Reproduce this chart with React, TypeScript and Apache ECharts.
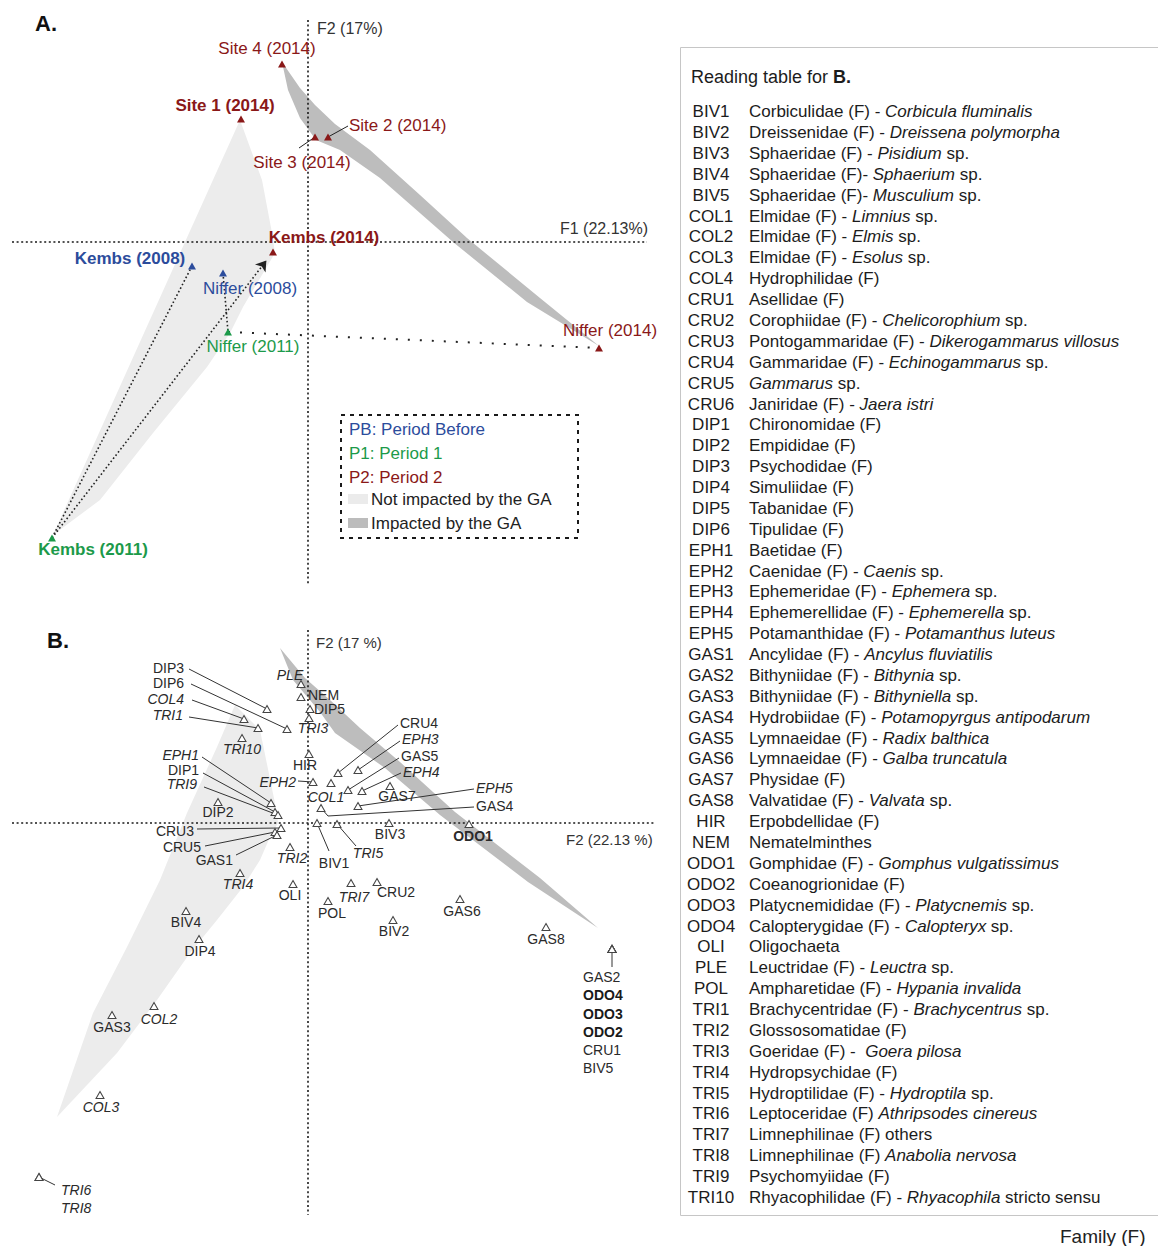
import React, { useEffect, useRef } from "react";
import * as echarts from "echarts";

const FONT = "'Liberation Sans', Arial, Helvetica, sans-serif";

// ---------------- Panel A : sampling sites (F1 / F2 scores) ----------------
const siteNames = [
  "Site 4 (2014)", "Site 1 (2014)", "Site 3 (2014)", "Site 2 (2014)", "Kembs (2014)",
  "Kembs (2008)", "Niffer (2008)", "Niffer (2011)", "Kembs (2011)", "Niffer (2014)",
];
const siteF1 = [-0.26, -0.67, 0.07, 0.2, -0.35, -1.16, -0.85, -0.8, -2.56, 2.91];
const siteF2 = [1.78, 1.23, 1.05, 1.05, -0.1, -0.24, -0.31, -0.9, -2.96, -1.06];
const sitePeriods = ["P2", "P2", "P2", "P2", "P2", "PB", "PB", "P1", "P1", "P2"];

const periodKeys = ["PB", "P1", "P2"];
const periodLabels = ["PB: Period Before", "P1: Period 1", "P2: Period 2"];
const periodColors = ["#2c4c9c", "#1c9a4a", "#8a1818"];

const trajectoryFrom = ["Kembs (2008)", "Kembs (2011)", "Niffer (2008)", "Niffer (2011)"];
const trajectoryTo = ["Kembs (2011)", "Kembs (2014)", "Niffer (2011)", "Niffer (2014)"];
const trajectoryKind = ["dense", "arrow", "dense", "sparse"];

// hull outlines (F1, F2)
const hullANotImpacted: number[][] = [
  [-0.68, 1.22], [-0.46, 0.62], [-0.36, 0.09], [-0.33, -0.11], [-0.65, -0.65],
  [-0.78, -0.91], [-1.01, -1.25], [-1.55, -1.91], [-2.08, -2.58], [-2.55, -2.93],
];
const hullAImpacted: number[][] = [
  [-0.26, 1.8], [-0.08, 1.54], [0.07, 1.37], [0.27, 1.18], [0.62, 0.92], [1.12, 0.47],
  [1.59, 0.04], [2.32, -0.56], [2.91, -1.04], [2.19, -0.6], [1.45, 0.0], [0.72, 0.64],
  [0.32, 0.92], [0.08, 1.02], [-0.08, 1.24], [-0.2, 1.52],
];
const hullBNotImpacted: number[][] = [
  [-0.73, 1.18], [-0.48, 0.93], [-0.31, 0.1], [-0.3, 0.0], [-0.38, -0.14],
  [-0.48, -0.37], [-0.65, -0.64], [-0.91, -0.97], [-1.18, -1.3], [-1.51, -1.77],
  [-1.91, -2.3], [-2.51, -2.94], [-2.15, -1.9], [-1.81, -1.24], [-1.48, -0.57],
  [-1.21, 0.1], [-0.91, 0.76],
];
const hullBImpacted: number[][] = [
  [-0.28, 1.75], [-0.03, 1.45], [0.22, 1.23], [0.52, 0.95], [0.92, 0.61], [1.47, 0.11],
  [2.32, -0.55], [2.9, -1.05], [2.2, -0.59], [1.32, 0.08], [0.77, 0.55], [0.27, 0.9],
  [0.12, 1.11], [-0.15, 1.43],
];

// ---------------- Panel B : taxa (F1 / F2 scores) ----------------
const taxaCodes = [
  "PLE", "NEM", "DIP5", "TRI3", "DIP3", "DIP6", "COL4", "TRI1", "TRI10", "HIR",
  "EPH2", "CRU4", "EPH3", "GAS5", "EPH4", "GAS7", "COL1", "GAS4", "EPH5", "BIV3",
  "ODO1", "BIV1", "TRI5", "TRI2", "EPH1", "DIP1", "TRI9", "DIP2", "CRU3", "CRU5",
  "GAS1", "TRI4", "OLI", "POL", "TRI7", "CRU2", "GAS6", "BIV2", "GAS8", "GAS2",
  "ODO4", "ODO3", "ODO2", "CRU1", "BIV5", "BIV4", "DIP4", "GAS3", "COL2", "COL3",
  "TRI6", "TRI8",
];
const taxaF1 = [
  -0.07, -0.07, 0.02, 0.01, -0.41, -0.21, -0.64, -0.5, -0.66, 0.01,
  0.05, 0.3, 0.5, 0.4, 0.54, 0.82, 0.23, 0.13, 0.5, 0.81,
  1.61, 0.09, 0.29, -0.18, -0.37, -0.33, -0.3, -0.9, -0.27, -0.33,
  -0.31, -0.68, -0.15, 0.2, 0.43, 0.69, 1.52, 0.85, 2.38, 3.04,
  3.04, 3.04, 3.04, 3.04, 3.04, -1.22, -1.09, -1.96, -1.54, -2.08,
  -2.69, -2.69,
];
const taxaF2 = [
  1.39, 1.26, 1.14, 1.05, 1.14, 0.94, 1.04, 0.95, 0.85, 0.69,
  0.41, 0.5, 0.53, 0.33, 0.32, 0.37, 0.4, 0.15, 0.17, 0.0,
  -0.01, 0.0, -0.01, -0.24, 0.2, 0.11, 0.08, 0.21, -0.05, -0.09,
  -0.12, -0.5, -0.61, -0.78, -0.6, -0.59, -0.76, -0.97, -1.04, -1.26,
  -1.26, -1.26, -1.26, -1.26, -1.26, -0.88, -1.16, -1.92, -1.83, -2.72,
  -3.54, -3.54,
];
const italicCodes = [
  "PLE", "COL4", "TRI1", "TRI10", "TRI3", "EPH1", "TRI9", "EPH2", "COL1", "EPH3",
  "EPH4", "EPH5", "TRI2", "TRI5", "TRI4", "TRI7", "COL2", "COL3", "TRI6", "TRI8",
];
const boldCodes = ["ODO1", "ODO2", "ODO3", "ODO4"];
const stackedGroups = [
  ["GAS2", "ODO4", "ODO3", "ODO2", "CRU1", "BIV5"],
  ["TRI6", "TRI8"],
];

// ---------------- Reading table ----------------
const tableCodes = [
  "BIV1", "BIV2", "BIV3", "BIV4", "BIV5", "COL1", "COL2", "COL3", "COL4", "CRU1",
  "CRU2", "CRU3", "CRU4", "CRU5", "CRU6", "DIP1", "DIP2", "DIP3", "DIP4", "DIP5",
  "DIP6", "EPH1", "EPH2", "EPH3", "EPH4", "EPH5", "GAS1", "GAS2", "GAS3", "GAS4",
  "GAS5", "GAS6", "GAS7", "GAS8", "HIR", "NEM", "ODO1", "ODO2", "ODO3", "ODO4",
  "OLI", "PLE", "POL", "TRI1", "TRI2", "TRI3", "TRI4", "TRI5", "TRI6", "TRI7",
  "TRI8", "TRI9", "TRI10",
];
const tableDescriptions = [
  "Corbiculidae (F) - _Corbicula fluminalis_",
  "Dreissenidae (F) - _Dreissena polymorpha_",
  "Sphaeridae (F) - _Pisidium_ sp.",
  "Sphaeridae (F)- _Sphaerium_ sp.",
  "Sphaeridae (F)- _Musculium_ sp.",
  "Elmidae (F) - _Limnius_ sp.",
  "Elmidae (F) - _Elmis_ sp.",
  "Elmidae (F) - _Esolus_ sp.",
  "Hydrophilidae (F)",
  "Asellidae (F)",
  "Corophiidae (F) - _Chelicorophium_ sp.",
  "Pontogammaridae (F) - _Dikerogammarus villosus_",
  "Gammaridae (F) - _Echinogammarus_ sp.",
  "_Gammarus_ sp.",
  "Janiridae (F) - _Jaera istri_",
  "Chironomidae (F)",
  "Empididae (F)",
  "Psychodidae (F)",
  "Simuliidae (F)",
  "Tabanidae (F)",
  "Tipulidae (F)",
  "Baetidae (F)",
  "Caenidae (F) - _Caenis_ sp.",
  "Ephemeridae (F) - _Ephemera_ sp.",
  "Ephemerellidae (F) - _Ephemerella_ sp.",
  "Potamanthidae (F) - _Potamanthus luteus_",
  "Ancylidae (F) - _Ancylus fluviatilis_",
  "Bithyniidae (F) - _Bithynia_ sp.",
  "Bithyniidae (F) - _Bithyniella_ sp.",
  "Hydrobiidae (F) - _Potamopyrgus antipodarum_",
  "Lymnaeidae (F) - _Radix balthica_",
  "Lymnaeidae (F) - _Galba truncatula_",
  "Physidae (F)",
  "Valvatidae (F) - _Valvata_ sp.",
  "Erpobdellidae (F)",
  "Nematelminthes",
  "Gomphidae (F) - _Gomphus vulgatissimus_",
  "Coeanogrionidae (F)",
  "Platycnemididae (F) - _Platycnemis_ sp.",
  "Calopterygidae (F) - _Calopteryx_ sp.",
  "Oligochaeta",
  "Leuctridae (F) - _Leuctra_ sp.",
  "Ampharetidae (F) - _Hypania invalida_",
  "Brachycentridae (F) - _Brachycentrus_ sp.",
  "Glossosomatidae (F)",
  "Goeridae (F) -  _Goera pilosa_",
  "Hydropsychidae (F)",
  "Hydroptilidae (F) - _Hydroptila_ sp.",
  "Leptoceridae (F) _Athripsodes cinereus_",
  "Limnephilinae (F) others",
  "Limnephilinae (F) _Anabolia nervosa_",
  "Psychomyiidae (F)",
  "Rhyacophilidae (F) - _Rhyacophila_ stricto sensu",
];

// ---------------- layout (pixels) ----------------
type LabelLayout = {
  dx: number; dy: number; align: string; bold?: boolean; vAlign?: string;
  leader?: number[]; bend?: number[];
};
const siteLabelLayout: Record<string, LabelLayout> = {
  "Site 4 (2014)": { dx: -15, dy: -16, align: "center" },
  "Site 1 (2014)": { dx: -16, dy: -14, align: "center", bold: true },
  "Site 3 (2014)": { dx: -13, dy: 25, align: "center", leader: [-16, 11] },
  "Site 2 (2014)": { dx: 21, dy: -12, align: "left", leader: [20, -11] },
  "Kembs (2014)": { dx: 51, dy: -15, align: "center", bold: true },
  "Kembs (2008)": { dx: -62, dy: -8, align: "center", bold: true },
  "Niffer (2008)": { dx: 27, dy: 15, align: "center" },
  "Niffer (2011)": { dx: 25, dy: 14, align: "center" },
  "Kembs (2011)": { dx: 41, dy: 11, align: "center", bold: true },
  "Niffer (2014)": { dx: 11, dy: -18, align: "center" },
};
const taxaLabelLayout: Record<string, LabelLayout> = {
  PLE: { dx: -11, dy: -9, align: "center" },
  NEM: { dx: 7, dy: -2, align: "left" },
  DIP5: { dx: 4, dy: 0, align: "left" },
  TRI3: { dx: 4, dy: 10, align: "center" },
  DIP3: { dx: -83, dy: -41, align: "right", leader: [-78, -40] },
  DIP6: { dx: -103, dy: -46, align: "right", leader: [-96, -45] },
  COL4: { dx: -60, dy: -20, align: "right", leader: [-52, -19] },
  TRI1: { dx: -75, dy: -13, align: "right", leader: [-69, -11] },
  TRI10: { dx: 0, dy: 11, align: "center" },
  HIR: { dx: -4, dy: 11, align: "center" },
  EPH2: { dx: -17, dy: 0, align: "right", leader: [-15, -1] },
  CRU4: { dx: 62, dy: -50, align: "left", leader: [60, -48] },
  EPH3: { dx: 44, dy: -31, align: "left", leader: [42, -29] },
  GAS5: { dx: 53, dy: -34, align: "left", leader: [51, -32] },
  EPH4: { dx: 41, dy: -19, align: "left", leader: [39, -18] },
  GAS7: { dx: 7, dy: 10, align: "center" },
  COL1: { dx: -5, dy: 14, align: "center" },
  GAS4: { dx: 155, dy: -2, align: "left", leader: [153, -1], bend: [7, 8] },
  EPH5: { dx: 118, dy: -18, align: "left", leader: [116, -17] },
  BIV3: { dx: 1, dy: 11, align: "center" },
  ODO1: { dx: 4, dy: 12, align: "center" },
  BIV1: { dx: 17, dy: 40, align: "center", leader: [12, 28] },
  TRI5: { dx: 31, dy: 29, align: "center", leader: [19, 22] },
  TRI2: { dx: 2, dy: 11, align: "center" },
  EPH1: { dx: -72, dy: -48, align: "right", leader: [-69, -46] },
  DIP1: { dx: -76, dy: -42, align: "right", leader: [-72, -39] },
  TRI9: { dx: -81, dy: -31, align: "right", leader: [-74, -28] },
  DIP2: { dx: 0, dy: 10, align: "center" },
  CRU3: { dx: -87, dy: 3, align: "right", leader: [-84, 1] },
  CRU5: { dx: -74, dy: 15, align: "right", leader: [-70, 14] },
  GAS1: { dx: -44, dy: 25, align: "right", leader: [-41, 20] },
  TRI4: { dx: -2, dy: 11, align: "center" },
  OLI: { dx: -3, dy: 11, align: "center" },
  POL: { dx: 4, dy: 12, align: "center" },
  TRI7: { dx: 3, dy: 14, align: "center" },
  CRU2: { dx: 19, dy: 10, align: "center" },
  GAS6: { dx: 2, dy: 12, align: "center" },
  BIV2: { dx: 1, dy: 11, align: "center" },
  GAS8: { dx: 0, dy: 12, align: "center" },
  GAS2: { dx: -29, dy: 19, align: "left", vAlign: "top", leader: [0, 18] },
  BIV4: { dx: 0, dy: 11, align: "center" },
  DIP4: { dx: 1, dy: 12, align: "center" },
  GAS3: { dx: 0, dy: 12, align: "center" },
  COL2: { dx: 5, dy: 13, align: "center" },
  COL3: { dx: 1, dy: 12, align: "center" },
  TRI6: { dx: 22, dy: 4, align: "left", vAlign: "top", leader: [16, 8] },
};

const GRID_W = 660;
const A_X = [-3.08, 3.52];
const A_Y = [-3.48, 2.42];
const B_X = [-3.08, 3.52];
const B_Y = [-4.23, 2.23];
const A_AXIS_EXTENT = { v: [2.22, -3.43], h: [-2.96, 3.39] };
const B_AXIS_EXTENT = { v: [1.93, -3.92], h: [-2.96, 3.47] };

function toRich(desc: string) {
  return desc
    .split("_")
    .map((seg, k) => (seg ? `{${k % 2 ? "it" : "rg"}|${seg}}` : ""))
    .join("");
}

function hullSeries(points: number[][], color: string, idx: number) {
  return {
    type: "custom",
    coordinateSystem: "cartesian2d",
    xAxisIndex: idx,
    yAxisIndex: idx,
    silent: true,
    z: 1,
    clip: false,
    data: [[0, 0]],
    renderItem: (_p: any, api: any) => ({
      type: "polygon",
      shape: { points: points.map((p) => api.coord(p)) },
      style: { fill: color, stroke: null },
    }),
  };
}

function buildOption() {
  const u = (A_X[1] - A_X[0]) / GRID_W; // data units per pixel
  const off = (p: number[], d: number[]) => [p[0] + d[0] * u, p[1] - d[1] * u];
  const pColor = (key: string) => periodColors[periodKeys.indexOf(key)];
  const sitePoint = (name: string) => {
    const i = siteNames.indexOf(name);
    return [siteF1[i], siteF2[i]];
  };

  // ---- A scatter ----
  const siteData = siteNames.map((name, i) => {
    const L = siteLabelLayout[name];
    const col = pColor(sitePeriods[i]);
    return {
      name,
      value: [siteF1[i], siteF2[i]],
      itemStyle: { color: col, opacity: 1 },
      label: {
        show: true,
        formatter: () => name,
        position: "inside",
        offset: [L.dx, L.dy],
        align: L.align,
        verticalAlign: "middle",
        color: col,
        opacity: 1,
        fontSize: 17,
        fontFamily: FONT,
        fontWeight: L.bold ? "bold" : "normal",
        textBorderWidth: 0,
      },
    };
  });

  // ---- A leaders ----
  const siteLeaders: any[] = [];
  siteNames.forEach((name, i) => {
    const L = siteLabelLayout[name];
    if (L.leader) {
      const p = [siteF1[i], siteF2[i]];
      siteLeaders.push({ coords: [off(p, L.leader), p] });
    }
  });

  // ---- trajectories ----
  const dense: any[] = [];
  const sparse: any[] = [];
  const arrow: any[] = [];
  trajectoryFrom.forEach((f, k) => {
    const a = sitePoint(f);
    const b = sitePoint(trajectoryTo[k]);
    if (trajectoryKind[k] === "dense") dense.push({ coords: [a, b] });
    else if (trajectoryKind[k] === "sparse") sparse.push({ coords: [a, b] });
    else {
      const t = 0.97;
      arrow.push({ coords: [a, [a[0] + (b[0] - a[0]) * t, a[1] + (b[1] - a[1]) * t]] });
    }
  });

  // ---- B scatter ----
  const hidden = new Set<string>();
  stackedGroups.forEach((g) => g.slice(1).forEach((c) => hidden.add(c)));
  const taxaData = taxaCodes.map((code, i) => {
    const L = taxaLabelLayout[code];
    const group = stackedGroups.find((g) => g[0] === code);
    let text = code;
    if (group) {
      text = group
        .map((c) => `{${boldCodes.includes(c) ? "bd" : italicCodes.includes(c) ? "it" : "rg"}|${c}}`)
        .join("\n");
    }
    const label: any = hidden.has(code) || !L
      ? { show: false }
      : {
          show: true,
          formatter: () => text,
          position: "inside",
          offset: [L.dx, L.dy],
          align: L.align,
          verticalAlign: L.vAlign || "middle",
          color: "#2a2a2a",
          opacity: 1,
          fontSize: 14,
          fontFamily: FONT,
          fontStyle: italicCodes.includes(code) ? "italic" : "normal",
          fontWeight: boldCodes.includes(code) ? "bold" : "normal",
          textBorderWidth: 0,
          rich: {
            rg: { fontSize: 14, fontFamily: FONT, color: "#2a2a2a", lineHeight: 18.2 },
            bd: { fontSize: 14, fontFamily: FONT, color: "#1a1a1a", fontWeight: "bold", lineHeight: 18.2 },
            it: { fontSize: 14, fontFamily: FONT, color: "#2a2a2a", fontStyle: "italic", lineHeight: 18.2 },
          },
        };
    return { name: code, value: [taxaF1[i], taxaF2[i]], label };
  });

  const taxaLeaders: any[] = [];
  taxaCodes.forEach((code, i) => {
    const L = taxaLabelLayout[code];
    if (L && L.leader && !hidden.has(code)) {
      const p = [taxaF1[i], taxaF2[i]];
      const coords = [off(p, L.leader)];
      if (L.bend) coords.push(off(p, L.bend));
      coords.push(p);
      taxaLeaders.push({ coords });
    }
  });

  const axisLine = (idx: number, ext: { v: number[]; h: number[] }) => ({
    type: "lines",
    coordinateSystem: "cartesian2d",
    xAxisIndex: idx,
    yAxisIndex: idx,
    silent: true,
    z: 2,
    lineStyle: { color: "#1a1a1a", width: 1.6, type: [2, 2.6], opacity: 1 },
    data: [
      { coords: [[0, ext.v[0]], [0, ext.v[1]]] },
      { coords: [[ext.h[0], 0], [ext.h[1], 0]] },
    ],
  });

  // ---------- graphic: titles, legend box, reading table ----------
  const txt = (text: string, x: number, y: number, size: number, fill: string, extra: any = {}) => ({
    type: "text",
    x,
    y,
    silent: true,
    style: {
      text,
      fill,
      fontSize: size,
      fontFamily: FONT,
      align: extra.align || "left",
      textAlign: extra.align || "left",
      verticalAlign: "middle",
      textVerticalAlign: "middle",
      fontWeight: extra.bold ? "bold" : "normal",
      rich: extra.rich,
    },
  });

  const g: any[] = [];
  g.push(txt("A.", 35, 23, 22, "#111", { bold: true }));
  g.push(txt("B.", 47, 640, 22, "#111", { bold: true }));
  g.push(txt("F2 (17%)", 317, 28, 16, "#333"));
  g.push(txt("F1 (22.13%)", 560, 228, 16, "#333"));
  g.push(txt("F2 (17 %)", 316, 642, 15, "#333"));
  g.push(txt("F2 (22.13 %)", 566, 839, 15, "#333"));

  // legend box
  g.push({
    type: "rect",
    silent: true,
    shape: { x: 341, y: 415, width: 237, height: 123 },
    style: { fill: "#fff", stroke: "#1a1a1a", lineWidth: 2, lineDash: [4, 5] },
  });
  periodLabels.forEach((lab, k) => g.push(txt(lab, 349, 429 + k * 24, 17, periodColors[k])));
  g.push({ type: "rect", silent: true, shape: { x: 348, y: 494, width: 20, height: 10 }, style: { fill: "#ebebeb" } });
  g.push({ type: "rect", silent: true, shape: { x: 348, y: 518, width: 20, height: 10 }, style: { fill: "#bcbcbc" } });
  g.push(txt("Not impacted by the GA", 371, 499, 17, "#222"));
  g.push(txt("Impacted by the GA", 371, 523, 17, "#222"));

  // reading table
  g.push({
    type: "rect",
    silent: true,
    shape: { x: 680.5, y: 47.5, width: 520, height: 1168 },
    style: { fill: "none", stroke: "#c6c6c6", lineWidth: 1 },
  });
  const richT = {
    rg: { fontSize: 17, fontFamily: FONT, fill: "#1c1c1c", color: "#1c1c1c" },
    it: { fontSize: 17, fontFamily: FONT, fill: "#1c1c1c", color: "#1c1c1c", fontStyle: "italic" },
    bd: { fontSize: 18, fontFamily: FONT, fill: "#1c1c1c", color: "#1c1c1c", fontWeight: "bold" },
    hd: { fontSize: 18, fontFamily: FONT, fill: "#1c1c1c", color: "#1c1c1c" },
  };
  g.push(txt("{hd|Reading table for }{bd|B.}", 691, 77, 18, "#1c1c1c", { rich: richT }));
  const y0 = 111.7;
  const dy = 20.88;
  tableCodes.forEach((code, i) => {
    const y = y0 + i * dy;
    g.push(txt(code, 711, y, 17, "#1c1c1c", { align: "center" }));
    g.push(txt(toRich(tableDescriptions[i]), 749, y, 17, "#1c1c1c", { rich: richT }));
  });
  g.push(txt("Family (F)", 1060, 1236, 19, "#222"));

  return {
    animation: false,
    backgroundColor: "#fff",
    grid: [
      { left: 0, top: 0, width: GRID_W, height: 590 },
      { left: 0, top: 600, width: GRID_W, height: 646 },
    ],
    xAxis: [
      { gridIndex: 0, type: "value", min: A_X[0], max: A_X[1], show: false },
      { gridIndex: 1, type: "value", min: B_X[0], max: B_X[1], show: false },
    ],
    yAxis: [
      { gridIndex: 0, type: "value", min: A_Y[0], max: A_Y[1], show: false },
      { gridIndex: 1, type: "value", min: B_Y[0], max: B_Y[1], show: false },
    ],
    series: [
      hullSeries(hullANotImpacted, "#ececec", 0),
      hullSeries(hullAImpacted, "#bdbdbd", 0),
      hullSeries(hullBNotImpacted, "#ececec", 1),
      hullSeries(hullBImpacted, "#bdbdbd", 1),
      axisLine(0, A_AXIS_EXTENT),
      axisLine(1, B_AXIS_EXTENT),
      {
        type: "lines", coordinateSystem: "cartesian2d", xAxisIndex: 0, yAxisIndex: 0, silent: true, z: 3,
        lineStyle: { color: "#222", width: 1.6, type: [1.6, 2.4], opacity: 1 },
        data: dense,
      },
      {
        type: "lines", coordinateSystem: "cartesian2d", xAxisIndex: 0, yAxisIndex: 0, silent: true, z: 3,
        lineStyle: { color: "#222", width: 2, type: [2, 10], opacity: 1 },
        data: sparse,
      },
      {
        type: "lines", coordinateSystem: "cartesian2d", xAxisIndex: 0, yAxisIndex: 0, silent: true, z: 3,
        symbol: ["none", "arrow"], symbolSize: 10,
        lineStyle: { color: "#222", width: 1.6, type: [1.6, 2.4], opacity: 1 },
        data: arrow,
      },
      {
        type: "lines", coordinateSystem: "cartesian2d", xAxisIndex: 0, yAxisIndex: 0, silent: true, z: 3,
        lineStyle: { color: "#222", width: 1, opacity: 1 },
        data: siteLeaders,
      },
      {
        type: "lines", coordinateSystem: "cartesian2d", xAxisIndex: 1, yAxisIndex: 1, silent: true, z: 3,
        polyline: true,
        lineStyle: { color: "#333", width: 1, opacity: 1 },
        data: taxaLeaders,
      },
      {
        type: "scatter", xAxisIndex: 0, yAxisIndex: 0, silent: true, z: 5,
        symbol: "triangle", symbolSize: [8, 7],
        itemStyle: { opacity: 1 },
        data: siteData,
      },
      {
        type: "scatter", xAxisIndex: 1, yAxisIndex: 1, silent: true, z: 5,
        symbol: "triangle", symbolSize: [8, 7],
        itemStyle: { color: "#fff", borderColor: "#444", borderWidth: 1, opacity: 1 },
        data: taxaData,
      },
    ],
    graphic: { elements: g },
  };
}

export default function App() {
  const ref = useRef<HTMLDivElement>(null);
  useEffect(() => {
    const chart = echarts.init(ref.current!, null, { renderer: "svg" });
    chart.setOption(buildOption() as any);
    return () => chart.dispose();
  }, []);
  return (
    <div
      ref={ref}
      style={{ position: "absolute", left: 0, top: 0, width: 1158, height: 1246, background: "#fff" }}
    />
  );
}
